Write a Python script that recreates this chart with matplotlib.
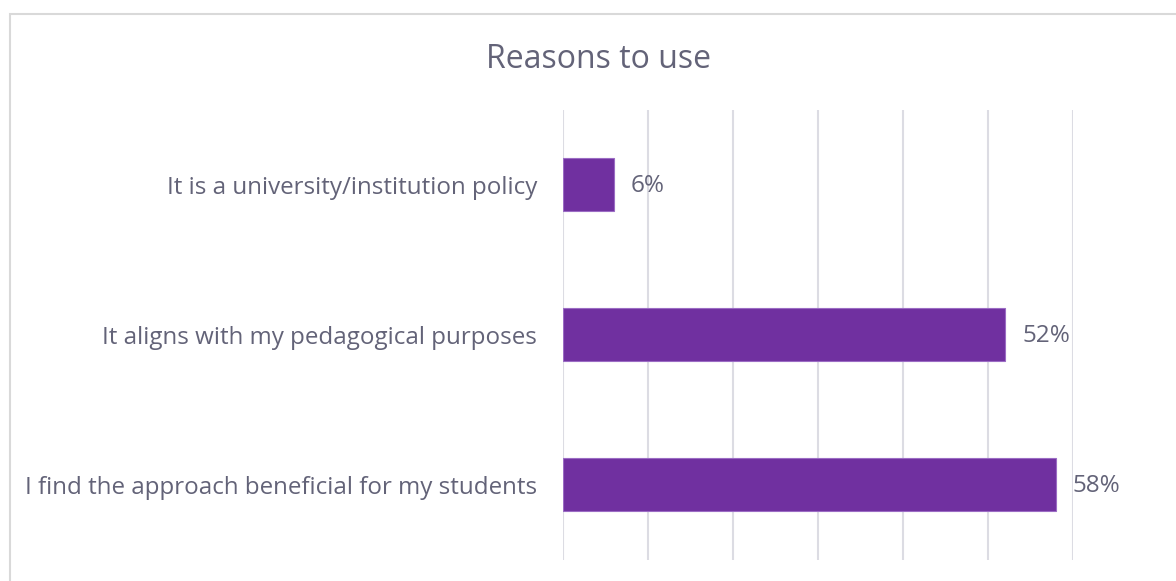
import matplotlib
matplotlib.use("Agg")
import matplotlib.pyplot as plt
from matplotlib.patches import Rectangle

# data
categories = ["It is a university/institution policy",
              "It aligns with my pedagogical purposes",
              "I find the approach beneficial for my students"]
values = [0.06, 0.52, 0.58]
title = "Reasons to use"

plt.rcParams['font.family'] = ['Open Sans', 'DejaVu Sans']
txt = '#636378'

W, H = 1176, 581
fig = plt.figure(figsize=(W / 100, H / 100), dpi=100)
fig.patch.set_facecolor('white')

# outer chart border (cropped on the right and bottom)
fig.add_artist(Rectangle((9.5 / W, -0.1), 2, 1 - 13.5 / H + 0.1,
                         transform=fig.transFigure, fill=False,
                         edgecolor='#d9d9d9', lw=1.5))

ax = fig.add_axes([563 / W, 1 - 559.5 / H, (1073 - 563) / W, 450 / H])
y = list(range(len(categories)))
ax.barh(y, values, height=0.353, color='#7030a0', edgecolor='#9b6cc4',
        linewidth=0.8, zorder=3)
ax.set_xlim(0, 0.6)
ax.set_ylim(2.5, -0.5)
ax.set_xticks([0, 0.1, 0.2, 0.3, 0.4, 0.5, 0.6])
ax.xaxis.grid(True, color='#dcdce3', lw=1.5, zorder=0)
ax.tick_params(axis='x', length=0, labelbottom=False)
ax.tick_params(axis='y', length=0, pad=18.7, labelsize=17.4, labelcolor=txt)
ax.set_yticks(y)
ax.set_yticklabels(categories)
for s in ax.spines.values():
    s.set_visible(False)

for i, v in enumerate(values):
    ax.annotate(f"{v * 100:.0f}%", (v, i), xytext=(17, -2), textcoords='offset pixels',
                ha='left', va='center', fontsize=17.5, color=txt)

fig.text(599 / W, 1 - 60 / H, title, ha='center', va='center', fontsize=23, color=txt)

fig.savefig('out.png', dpi=100)
